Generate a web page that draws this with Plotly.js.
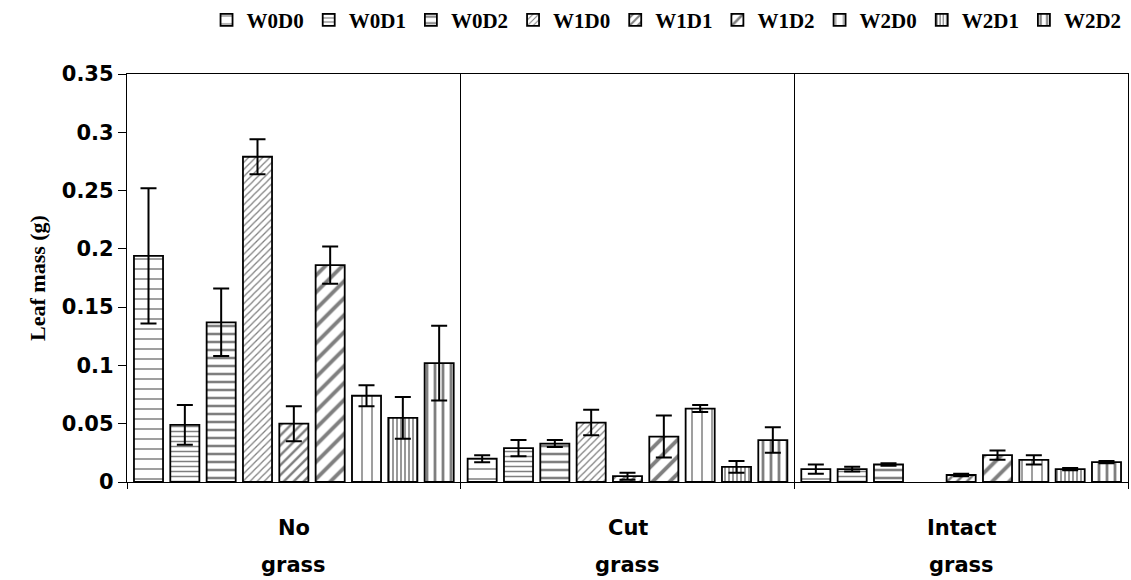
<!DOCTYPE html>
<html>
<head>
<meta charset="utf-8">
<script src="https://cdn.plot.ly/plotly-3.0.1.min.js"></script>
<style>
  html, body { margin: 0; padding: 0; background: #fff; }
  #chart { width: 1131px; height: 580px; }
</style>
</head>
<body>
<div id="chart"></div>
<script>
// Treatment groups along the x axis
const categories = ["No grass", "Cut grass", "Intact grass"];

// Series names (water level W x defoliation D)
const seriesNames = ["W0D0", "W0D1", "W0D2", "W1D0", "W1D1", "W1D2", "W2D0", "W2D1", "W2D2"];

// Mean leaf mass (g) per series, in category order
const W0D0 = [0.194, 0.020, 0.011];
const W0D1 = [0.049, 0.029, 0.011];
const W0D2 = [0.137, 0.033, 0.015];
const W1D0 = [0.279, 0.051, null];
const W1D1 = [0.050, 0.005, 0.006];
const W1D2 = [0.186, 0.039, 0.023];
const W2D0 = [0.074, 0.063, 0.019];
const W2D1 = [0.055, 0.013, 0.011];
const W2D2 = [0.102, 0.036, 0.017];

// Standard errors
const W0D0_se = [0.058, 0.003, 0.004];
const W0D1_se = [0.017, 0.007, 0.002];
const W0D2_se = [0.029, 0.003, 0.001];
const W1D0_se = [0.015, 0.011, null];
const W1D1_se = [0.015, 0.003, 0.001];
const W1D2_se = [0.016, 0.018, 0.004];
const W2D0_se = [0.009, 0.003, 0.004];
const W2D1_se = [0.018, 0.005, 0.001];
const W2D2_se = [0.032, 0.011, 0.001];

const means = [W0D0, W0D1, W0D2, W1D0, W1D1, W1D2, W2D0, W2D1, W2D2];
const errors = [W0D0_se, W0D1_se, W0D2_se, W1D0_se, W1D1_se, W1D2_se, W2D0_se, W2D1_se, W2D2_se];

// Hatch fill for each series: horizontal for W0, diagonal for W1, vertical for W2
const hatches = [
  { shape: "-", size: 10, solidity: 0.15 },
  { shape: "-", size: 5,  solidity: 0.3 },
  { shape: "-", size: 8,  solidity: 0.32 },
  { shape: "/", size: 5,  solidity: 0.25 },
  { shape: "/", size: 7,  solidity: 0.35 },
  { shape: "/", size: 12, solidity: 0.32 },
  { shape: "|", size: 10, solidity: 0.15 },
  { shape: "|", size: 4,  solidity: 0.4 },
  { shape: "|", size: 8,  solidity: 0.35 }
];

const sansBold = { family: "DejaVu Sans, Arial, sans-serif", size: 21, color: "#000", weight: "bold" };
const serifBold = { family: "Liberation Serif, Times New Roman, serif", size: 21, color: "#000", weight: "bold" };

const traces = seriesNames.map((name, i) => ({
  type: "bar",
  name: name,
  x: categories,
  y: means[i],
  marker: {
    color: "#ffffff",
    line: { color: "#000000", width: 1.8 },
    pattern: {
      shape: hatches[i].shape,
      size: hatches[i].size,
      solidity: hatches[i].solidity,
      fgcolor: "#000000",
      bgcolor: "#ffffff",
      fillmode: "overlay"
    }
  },
  error_y: {
    type: "data",
    array: errors[i],
    visible: true,
    color: "#000000",
    thickness: 2,
    width: 8
  },
  hoverinfo: "skip"
}));

// Two-line group labels beneath the axis
const annotations = [];
categories.forEach(cat => {
  cat.split(" ").forEach((ln, k) => {
    annotations.push({
      x: cat, xref: "x",
      y: 0, yref: "paper",
      text: ln,
      showarrow: false,
      yanchor: "middle",
      yshift: -46 - 37 * k,
      font: sansBold
    });
  });
});

const layout = {
  width: 1131,
  height: 580,
  margin: { l: 127, r: 3, t: 74, b: 98, autoexpand: false },
  paper_bgcolor: "#ffffff",
  plot_bgcolor: "#ffffff",
  barmode: "group",
  bargap: 0.02,
  bargroupgap: 0.2,
  showlegend: true,
  legend: {
    orientation: "h",
    xref: "paper", x: 0.539, xanchor: "center",
    yref: "container", y: 0.965, yanchor: "middle",
    font: serifBold,
    itemwidth: 30,
    bgcolor: "rgba(0,0,0,0)"
  },
  xaxis: {
    type: "category",
    tickson: "boundaries",
    showgrid: true,
    gridcolor: "#000000",
    gridwidth: 1,
    showline: true,
    linecolor: "#000000",
    linewidth: 1.2,
    mirror: true,
    ticks: "outside",
    ticklen: 6,
    tickcolor: "#000000",
    showticklabels: false,
    zeroline: false
  },
  yaxis: {
    range: [0, 0.35],
    dtick: 0.05,
    tick0: 0,
    showgrid: false,
    zeroline: false,
    showline: true,
    linecolor: "#000000",
    linewidth: 1.2,
    mirror: true,
    ticks: "outside",
    ticklen: 8,
    tickcolor: "#000000",
    tickfont: sansBold,
    title: {
      text: "Leaf mass (g)",
      font: { family: "Liberation Serif, Times New Roman, serif", size: 22, color: "#000", weight: "bold" },
      standoff: 10
    }
  },
  annotations: annotations
};

Plotly.newPlot("chart", traces, layout, { displayModeBar: false, staticPlot: true });
</script>
</body>
</html>
